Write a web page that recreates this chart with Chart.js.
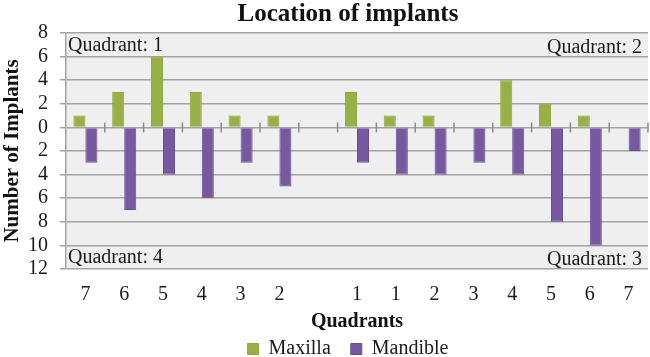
<!DOCTYPE html>
<html>
<head>
<meta charset="utf-8">
<script src="https://cdn.jsdelivr.net/npm/chart.js@4"></script>
<style>
  html, body { margin: 0; padding: 0; background: #fff; }
</style>
</head>
<body>
<canvas id="implantChart" width="650" height="357"></canvas>
<script>
// 차트 데이터
const quadrantLabels = ['7', '6', '5', '4', '3', '2', '', '1', '1', '2', '3', '4', '5', '6', '7'];
const maxillaValues = [1, 3, 6, 3, 1, 1, null, 3, 1, 1, 0, 4, 2, 1, 0];
const mandibleValues = [-3, -7, -4, -6, -3, -5, null, -3, -4, -4, -3, -4, -8, -10, -2];
const yTicksMin = -12;
const yTicksMax = 8;
const cornerNotes = ['Quadrant: 1', 'Quadrant: 2', 'Quadrant: 3', 'Quadrant: 4'];

const serif = '"Liberation Serif", "Times New Roman", serif';

// 플롯 영역 배경 + 0선 눈금 + 사분면 글자
const plotExtras = {
    id: 'plotExtras',
    afterLayout(chart) {
        // 제목과 범례를 원본처럼 조금 오른쪽으로
        chart.titleBlock.left += 24;
        chart.titleBlock.right += 24;
        chart.legend.left += 24;
        chart.legend.right += 24;
    },
    beforeDraw(chart) {
        const { ctx, chartArea: a } = chart;
        ctx.save();
        ctx.fillStyle = '#efefef';
        ctx.fillRect(a.left, a.top, a.right - a.left, a.bottom - a.top);
        ctx.restore();
    },
    afterDatasetsDraw(chart) {
        const { ctx, chartArea: a } = chart;
        const x = chart.scales.x;
        const y = chart.scales.y;
        const y0 = y.getPixelForValue(0);

        ctx.save();
        ctx.strokeStyle = '#8c8c8c';
        ctx.lineWidth = 1.5;
        for (let i = 0; i < quadrantLabels.length; i++) {
            const left = x.getPixelForValue(i);
            const right = i + 1 < quadrantLabels.length
                ? x.getPixelForValue(i + 1)
                : left + (left - x.getPixelForValue(i - 1));
            const bx = (left + right) / 2;
            ctx.beginPath();
            ctx.moveTo(bx, y0 - 5);
            ctx.lineTo(bx, y0 + 5);
            ctx.stroke();
        }

        ctx.fillStyle = '#1a1a1a';
        ctx.font = '20px ' + serif;
        ctx.textBaseline = 'middle';
        ctx.textAlign = 'left';
        ctx.fillText(cornerNotes[0], a.left + 2, a.top + 13);
        ctx.fillText(cornerNotes[3], a.left + 2, a.bottom - 11);
        ctx.textAlign = 'right';
        ctx.fillText(cornerNotes[1], a.right - 6, a.top + 15);
        ctx.fillText(cornerNotes[2], a.right - 6, a.bottom - 9);
        ctx.restore();
    }
};

const ctx = document.getElementById('implantChart');

new Chart(ctx, {
    type: 'bar',
    data: {
        labels: quadrantLabels,
        datasets: [{
            label: 'Maxilla',
            data: maxillaValues,
            backgroundColor: '#9aaf45',
            borderColor: '#91a63e',
            borderWidth: 1
        }, {
            label: 'Mandible',
            data: mandibleValues,
            backgroundColor: '#7659a0',
            borderColor: '#684e92',
            borderWidth: 1
        }]
    },
    options: {
        responsive: false,
        animation: false,
        layout: { padding: { left: 0, right: 2, top: 0, bottom: 0 } },
        datasets: {
            bar: { categoryPercentage: 0.62, barPercentage: 1 }
        },
        plugins: {
            title: {
                display: true,
                text: 'Location of implants',
                color: '#111',
                font: { family: serif, size: 25, weight: 'bold' },
                padding: { top: 0, bottom: 3 }
            },
            legend: {
                position: 'bottom',
                maxHeight: 38,
                labels: {
                    color: '#1a1a1a',
                    font: { family: serif, size: 20 },
                    boxWidth: 11,
                    boxHeight: 11,
                    padding: 20
                }
            },
            tooltip: { enabled: false }
        },
        scales: {
            x: {
                afterFit(scale) { scale.height = 50; },
                grid: { display: false, drawTicks: false },
                border: { display: false },
                ticks: {
                    color: '#1a1a1a',
                    font: { family: serif, size: 20 },
                    padding: 14,
                    autoSkip: false,
                    maxRotation: 0
                },
                title: {
                    display: true,
                    text: 'Quadrants',
                    color: '#111',
                    font: { family: serif, size: 20, weight: 'bold' },
                    padding: { top: 0, bottom: -15 }
                }
            },
            y: {
                min: yTicksMin,
                max: yTicksMax,
                afterFit(scale) { scale.width = 66; },
                grid: {
                    color: '#a3a3a3',
                    lineWidth: 1.5,
                    tickLength: 6
                },
                border: { display: true, color: '#a3a3a3', width: 1.5 },
                ticks: {
                    stepSize: 2,
                    autoSkip: false,
                    color: '#1a1a1a',
                    font: { family: serif, size: 20 },
                    padding: 12,
                    callback: (v) => Math.abs(v)
                },
                title: {
                    display: true,
                    text: 'Number of Implants',
                    color: '#111',
                    font: { family: serif, size: 21, weight: 'bold' },
                    padding: { top: 0, bottom: 0 }
                }
            }
        }
    },
    plugins: [plotExtras]
});
</script>
</body>
</html>
